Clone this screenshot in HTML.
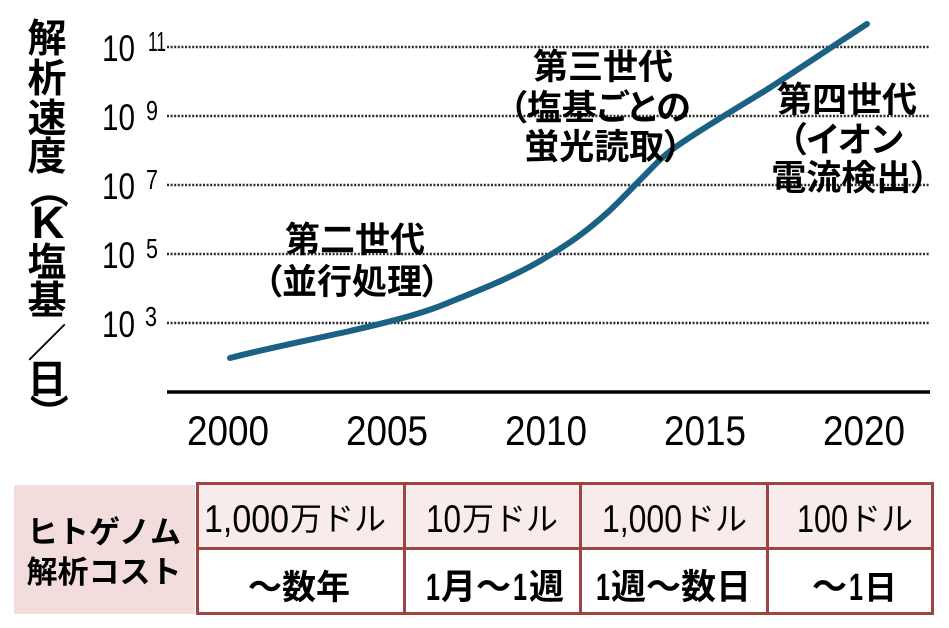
<!DOCTYPE html>
<html>
<head>
<meta charset="utf-8">
<style>
  html,body{margin:0;padding:0;background:#fff;}
  body{width:949px;height:628px;position:relative;overflow:hidden;
       font-family:"Liberation Sans","Noto Sans CJK JP",sans-serif;}
  svg{position:absolute;left:0;top:0;}
  .tt{font-family:"Liberation Sans","Noto Sans CJK JP",sans-serif;font-size:39px;font-weight:700;fill:#000;
      font-feature-settings:"palt";}
  .lbl{font-family:"Liberation Sans","Noto Sans CJK JP",sans-serif;font-size:35px;font-weight:700;
       font-feature-settings:"palt";fill:#000;}
  .num{font-family:"Liberation Sans",sans-serif;fill:#000;}
  .cj{font-family:"Noto Sans CJK JP","Liberation Sans",sans-serif;fill:#000;}
</style>
</head>
<body>
<svg width="949" height="628" viewBox="0 0 949 628" xmlns="http://www.w3.org/2000/svg">
  <!-- y-axis title (vertical) -->
  <g class="tt" text-anchor="middle">
    <text x="47" y="52">解</text>
    <text x="47" y="92">析</text>
    <text x="47" y="132">速</text>
    <text x="47" y="170">度</text>
    <text x="0" y="0" dominant-baseline="central" transform="translate(47,197) rotate(90)">（</text>
    <text x="48" y="238" font-size="45" font-family="Liberation Sans, sans-serif">K</text>
    <text x="47" y="276">塩</text>
    <text x="47" y="314">基</text>
    <text x="47" y="357">／</text>
    <text x="47" y="393">日</text>
    <text x="0" y="0" dominant-baseline="central" transform="translate(47,405) rotate(90)">）</text>
  </g>

  <!-- gridlines -->
  <g stroke="#2a2a2a" stroke-width="2.5" stroke-dasharray="2 1.6" fill="none">
    <line x1="167" y1="47" x2="930" y2="47"/>
    <line x1="167" y1="116" x2="930" y2="116"/>
    <line x1="167" y1="185" x2="930" y2="185"/>
    <line x1="167" y1="254" x2="930" y2="254"/>
    <line x1="167" y1="323" x2="930" y2="323"/>
  </g>
  <!-- baseline axis -->
  <line x1="167" y1="392" x2="930" y2="392" stroke="#000" stroke-width="3.5"/>

  <!-- y tick labels -->
  <g class="num">
    <text x="102" y="61" font-size="37" textLength="33" lengthAdjust="spacingAndGlyphs">10</text>
    <text x="148" y="51" font-size="28" textLength="18" lengthAdjust="spacingAndGlyphs">11</text>
    <text x="102" y="130" font-size="37" textLength="33" lengthAdjust="spacingAndGlyphs">10</text>
    <text x="146" y="120" font-size="28" textLength="12" lengthAdjust="spacingAndGlyphs">9</text>
    <text x="102" y="199" font-size="37" textLength="33" lengthAdjust="spacingAndGlyphs">10</text>
    <text x="146" y="189" font-size="28" textLength="12" lengthAdjust="spacingAndGlyphs">7</text>
    <text x="102" y="268" font-size="37" textLength="33" lengthAdjust="spacingAndGlyphs">10</text>
    <text x="146" y="258" font-size="28" textLength="12" lengthAdjust="spacingAndGlyphs">5</text>
    <text x="102" y="337" font-size="37" textLength="33" lengthAdjust="spacingAndGlyphs">10</text>
    <text x="145" y="326" font-size="28" textLength="12" lengthAdjust="spacingAndGlyphs">3</text>
  </g>

  <!-- x labels -->
  <g class="num" font-size="42">
    <text x="187" y="445" textLength="82" lengthAdjust="spacingAndGlyphs">2000</text>
    <text x="346" y="445" textLength="82" lengthAdjust="spacingAndGlyphs">2005</text>
    <text x="505" y="445" textLength="82" lengthAdjust="spacingAndGlyphs">2010</text>
    <text x="664" y="445" textLength="82" lengthAdjust="spacingAndGlyphs">2015</text>
    <text x="823" y="445" textLength="82" lengthAdjust="spacingAndGlyphs">2020</text>
  </g>

  <!-- curve -->
  <path d="M230,358 C260,350 300,342 350,331 C380,324 420,315 450,302 C485,288 520,274 550,255 C575,240 590,228 607,213 C620,201 628,192 640,180 C655,165 662,156 680,144 C700,130 740,106 763,92 C790,75 830,48 867,24"
        fill="none" stroke="#1b6183" stroke-width="6" stroke-linecap="round" stroke-linejoin="round"/>

  <!-- annotations -->
  <g class="lbl" text-anchor="middle">
    <text x="355" y="252">第二世代</text>
    <text x="352" y="294">（並行処理）</text>
    <text x="603" y="79">第三世代</text>
    <text x="600" y="120">（塩基ごとの</text>
    <text x="603" y="159">蛍光読取）</text>
    <text x="847" y="112">第四世代</text>
    <text x="846" y="152">（イオン</text>
    <text x="850" y="190">電流検出）</text>
  </g>

  <!-- table -->
  <rect x="14" y="485" width="181" height="129" fill="#f2dcdc"/>
  <rect x="196" y="482" width="738" height="66" fill="#f8ebeb"/>
  <g stroke="#a04343" stroke-width="3" fill="none">
    <rect x="197.5" y="483.5" width="735" height="130"/>
    <line x1="196" y1="548.5" x2="934" y2="548.5"/>
    <line x1="404.5" y1="482" x2="404.5" y2="615"/>
    <line x1="580.5" y1="482" x2="580.5" y2="615"/>
    <line x1="767.5" y1="482" x2="767.5" y2="615"/>
  </g>
  <g class="cj" text-anchor="middle" font-size="31" font-weight="700">
    <text x="104" y="543">ヒトゲノム</text>
    <text x="104" y="583">解析コスト</text>
  </g>

  <!-- top row -->
  <g font-weight="400">
    <text class="num" x="204" y="532" font-size="39" textLength="85" lengthAdjust="spacingAndGlyphs">1,000</text>
    <text class="cj" x="290" y="530" font-size="32">万ドル</text>
    <text class="num" x="426" y="532" font-size="39" textLength="35" lengthAdjust="spacingAndGlyphs">10</text>
    <text class="cj" x="462" y="530" font-size="32">万ドル</text>
    <text class="num" x="602" y="532" font-size="39" textLength="80" lengthAdjust="spacingAndGlyphs">1,000</text>
    <text class="cj" x="683" y="530" font-size="32">ドル</text>
    <text class="num" x="797" y="532" font-size="39" textLength="51" lengthAdjust="spacingAndGlyphs">100</text>
    <text class="cj" x="849" y="530" font-size="32">ドル</text>
  </g>

  <!-- bottom row -->
  <g font-weight="700">
    <text class="cj" x="299" y="599" font-size="34" text-anchor="middle">～数年</text>

    <text class="num" x="426" y="600" font-size="38" textLength="14" lengthAdjust="spacingAndGlyphs">1</text>
    <text class="cj" x="441" y="599" font-size="35">月～</text>
    <text class="num" x="513" y="600" font-size="38" textLength="14" lengthAdjust="spacingAndGlyphs">1</text>
    <text class="cj" x="529" y="599" font-size="35">週</text>

    <text class="num" x="596" y="600" font-size="38" textLength="14" lengthAdjust="spacingAndGlyphs">1</text>
    <text class="cj" x="611" y="599" font-size="35">週～数日</text>

    <text class="cj" x="812" y="599" font-size="35">～</text>
    <text class="num" x="849" y="600" font-size="38" textLength="14" lengthAdjust="spacingAndGlyphs">1</text>
    <text class="cj" x="864" y="599" font-size="33">日</text>
  </g>
</svg>
</body>
</html>
